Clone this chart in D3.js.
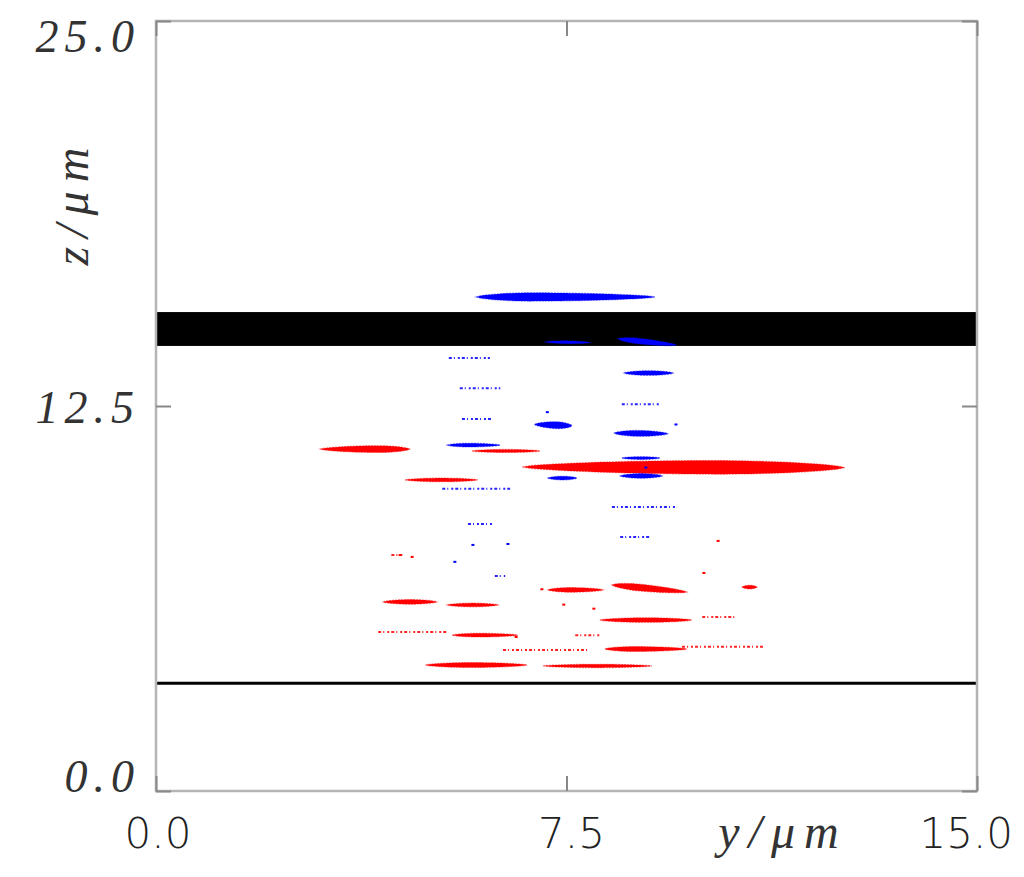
<!DOCTYPE html>
<html>
<head>
<meta charset="utf-8">
<script src="https://cdn.jsdelivr.net/npm/d3@7"></script>
<style>
  html, body { margin: 0; padding: 0; background: #fff; }
  svg { display: block; }
</style>
</head>
<body>
<svg id="chart" width="1024" height="877"></svg>
<script>
// ---------------- DATA (y, z in micrometres) ----------------
const yDomain = [0, 15];
const zDomain = [0, 25];
const yTicks = [0, 7.5, 15];
const zTicks = [0, 12.5, 25];
const yTickLabels = ["0.0", "7.5", "15.0"];
const zTickLabels = ["0.0", "12.5", "25.0"];
const xTitle = "y/μm";
const zTitle = "z/μm";

// black slab (z range) and thin black line (z)
const slab = [14.45, 15.55];
const baseLine = 3.5;

// dense streaks: [yStart, zStart, yEnd, zEnd, thickness(z units), peak position 0..1]
const blueStreaks = [
  [5.85, 16.04, 9.12, 16.04, 0.27, 0.3],
  [7.11, 14.58, 7.93, 14.56, 0.09, 0.5],
  [8.44, 14.68, 9.50, 14.48, 0.18, 0.35],
  [8.55, 13.57, 9.45, 13.57, 0.15, 0.5],
  [6.92, 11.90, 7.60, 11.86, 0.22, 0.6],
  [8.37, 11.62, 9.35, 11.60, 0.19, 0.45],
  [5.32, 11.23, 6.29, 11.23, 0.12, 0.4],
  [8.51, 10.81, 9.21, 10.81, 0.09, 0.5],
  [7.16, 10.16, 7.69, 10.16, 0.12, 0.5],
  [8.48, 10.23, 9.25, 10.23, 0.15, 0.5]
];
// sparse blue streaks: [yStart, yEnd, z]
const blueSparse = [
  [5.35, 6.10, 14.06],
  [5.55, 6.29, 13.08],
  [8.51, 9.21, 12.56],
  [5.59, 6.14, 12.08],
  [5.23, 6.47, 9.81],
  [8.33, 9.52, 9.22],
  [5.70, 6.14, 8.67],
  [8.48, 9.03, 8.25],
  [6.19, 6.38, 6.98]
];
// isolated blue particles: [y, z]
const blueDots = [[5.79, 7.99], [6.43, 8.02], [5.46, 7.44], [7.15, 12.3], [9.5, 11.9], [8.95, 10.5]];

const redStreaks = [
  [3.00, 11.10, 4.64, 11.10, 0.22, 0.65],
  [5.77, 11.04, 7.02, 11.04, 0.10, 0.5],
  [6.69, 10.52, 12.59, 10.50, 0.44, 0.6],
  [4.55, 10.10, 5.88, 10.10, 0.12, 0.5],
  [7.16, 6.53, 8.17, 6.53, 0.15, 0.4],
  [8.33, 6.69, 9.70, 6.46, 0.22, 0.35],
  [10.71, 6.62, 10.98, 6.62, 0.12, 0.5],
  [4.15, 6.14, 5.13, 6.14, 0.15, 0.5],
  [5.32, 6.04, 6.25, 6.04, 0.12, 0.5],
  [8.11, 5.55, 9.79, 5.55, 0.15, 0.5],
  [5.41, 5.06, 6.61, 5.06, 0.12, 0.4],
  [8.20, 4.61, 9.70, 4.61, 0.16, 0.35],
  [4.92, 4.09, 6.78, 4.09, 0.16, 0.45],
  [7.07, 4.06, 9.06, 4.06, 0.11, 0.5]
];
const redSparse = [
  [9.98, 10.62, 5.65],
  [4.06, 5.34, 5.16],
  [6.34, 7.93, 4.58],
  [9.61, 11.09, 4.68],
  [7.66, 8.11, 5.06],
  [4.30, 4.50, 7.66]
];
const redDots = [[4.46, 7.66], [4.68, 7.60], [10.27, 8.12], [10.01, 7.08], [7.05, 6.55], [7.45, 6.05], [8.0, 5.92], [6.58, 5.0]];

// ---------------- CHART ----------------
const svg = d3.select("#chart");
const margin = {left: 156, right: 1024 - 977, top: 21, bottom: 877 - 791};
const W = 1024, H = 877;
const x = d3.scaleLinear().domain(yDomain).range([margin.left, W - margin.right]);
const y = d3.scaleLinear().domain(zDomain).range([H - margin.bottom, margin.top]);

const BLUE = "#0000ff", RED = "#ff0000";

// slab & line
svg.append("rect")
  .attr("x", x(0)).attr("width", x(15) - x(0))
  .attr("y", y(slab[1])).attr("height", y(slab[0]) - y(slab[1]))
  .attr("fill", "#000");
svg.append("line")
  .attr("x1", x(0)).attr("x2", x(15))
  .attr("y1", y(baseLine)).attr("y2", y(baseLine))
  .attr("stroke", "#000").attr("stroke-width", 3);

function lensPath(d) {
  const [y0, z0, y1, z1, w, p] = d;
  const n = 40;
  const top = [], bot = [];
  for (let i = 0; i <= n; i++) {
    const t = i / n;
    const tw = t < p ? 0.5 * t / p : 0.5 + 0.5 * (t - p) / (1 - p);
    const h = (w / 2) * Math.pow(Math.sin(Math.PI * tw), 0.6);
    const yy = y0 + (y1 - y0) * t;
    const zz = z0 + (z1 - z0) * t;
    top.push([x(yy), y(zz + h)]);
    bot.push([x(yy), y(zz - h)]);
  }
  return d3.line()(top.concat(bot.reverse())) + "Z";
}

function drawStreaks(data, color) {
  svg.append("g").selectAll("path").data(data).join("path")
    .attr("d", lensPath)
    .attr("fill", color)
    .attr("stroke", color)
    .attr("stroke-opacity", 0.45)
    .attr("stroke-width", 1.2)
    .attr("stroke-dasharray", "2,1");
}
function drawSparse(data, color) {
  svg.append("g").selectAll("line").data(data).join("line")
    .attr("x1", d => x(d[0])).attr("x2", d => x(d[1]))
    .attr("y1", d => y(d[2])).attr("y2", d => y(d[2]))
    .attr("stroke", color).attr("stroke-width", 2)
    .attr("stroke-dasharray", "3,2,1,3,2,2")
    .attr("opacity", 0.85);
}
function drawDots(data, color) {
  svg.append("g").selectAll("rect").data(data).join("rect")
    .attr("x", d => x(d[0]) - 1.5).attr("y", d => y(d[1]) - 1)
    .attr("width", 3).attr("height", 2)
    .attr("fill", color);
}

drawStreaks(redStreaks, RED);
drawSparse(redSparse, RED);
drawDots(redDots, RED);
drawStreaks(blueStreaks, BLUE);
drawSparse(blueSparse, BLUE);
drawDots(blueDots, BLUE);

// frame
const frameColor = "#b4b4b4";
svg.append("rect")
  .attr("x", x(0)).attr("y", y(25))
  .attr("width", x(15) - x(0)).attr("height", y(0) - y(25))
  .attr("fill", "none").attr("stroke", frameColor).attr("stroke-width", 2.5);

// axes (ticks inward)
const axB = d3.axisBottom(x).tickValues(yTicks).tickSize(-15).tickFormat("");
const axT = d3.axisTop(x).tickValues(yTicks).tickSize(-15).tickFormat("");
const axL = d3.axisLeft(y).tickValues(zTicks).tickSize(-15).tickFormat("");
const axR = d3.axisRight(y).tickValues(zTicks).tickSize(-15).tickFormat("");
[[axB, `translate(0,${y(0)})`], [axT, `translate(0,${y(25)})`],
 [axL, `translate(${x(0)},0)`], [axR, `translate(${x(15)},0)`]].forEach(([ax, tr]) => {
  const g = svg.append("g").attr("transform", tr).call(ax);
  g.select(".domain").remove();
  g.selectAll(".tick line").attr("stroke", "#888").attr("stroke-width", 2);
});

// tick labels - bottom (upright sans)
const bottomFont = "'DejaVu Sans', 'Liberation Sans', sans-serif";
const bAnchor = ["middle", "middle", "end"];
const bShift = [2, 5, 36];
svg.append("g").selectAll("text").data(yTicks).join("text")
  .attr("x", (d, i) => x(d) + bShift[i])
  .attr("y", 848)
  .attr("text-anchor", (d, i) => bAnchor[i])
  .attr("font-family", bottomFont)
  .attr("font-weight", 200)
  .attr("font-size", 42)
  .attr("fill", "#222")
  .text((d, i) => yTickLabels[i]);

// tick labels - left (italic serif, thin)
const leftFont = "'Liberation Serif', 'DejaVu Serif', serif";
const lDy = [1, 17, 31];
svg.append("g").selectAll("text").data(zTicks).join("text")
  .attr("x", 140)
  .attr("y", (d, i) => y(d) + lDy[i])
  .attr("text-anchor", "end")
  .attr("font-family", leftFont)
  .attr("font-style", "italic")
  .attr("font-size", 46)
  .attr("fill", "#333")
  .attr("letter-spacing", 6)
  .text((d, i) => zTickLabels[i]);

// axis titles
svg.append("text")
  .attr("x", 783).attr("y", 848)
  .attr("text-anchor", "middle")
  .attr("font-family", leftFont)
  .attr("font-style", "italic")
  .attr("font-size", 48)
  .attr("letter-spacing", 9)
  .attr("fill", "#333")
  .text(xTitle);
svg.append("text")
  .attr("transform", "translate(88,202) rotate(-90)")
  .attr("text-anchor", "middle")
  .attr("font-family", leftFont)
  .attr("font-style", "italic")
  .attr("font-size", 48)
  .attr("letter-spacing", 9)
  .attr("fill", "#333")
  .text(zTitle);
</script>
</body>
</html>
